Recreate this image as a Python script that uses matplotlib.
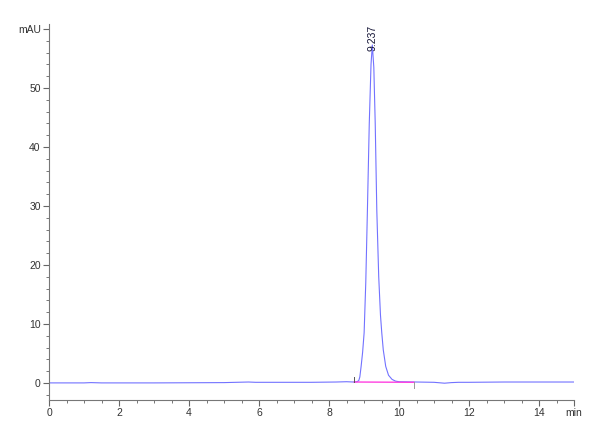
import matplotlib
matplotlib.use("Agg")
import matplotlib.pyplot as plt
from matplotlib.ticker import MultipleLocator

# Chromatogram trace (time in min, signal in mAU)
time_min = [0.0, 1.0, 1.2, 1.5, 3.0, 5.0, 5.7, 5.9, 6.5, 7.5, 8.2, 8.5, 8.7,
            8.8, 8.85, 8.88, 8.917, 8.96, 9.003, 9.05, 9.097, 9.15, 9.2, 9.237,
            9.28, 9.32, 9.365, 9.42, 9.47, 9.507, 9.55, 9.62, 9.7, 9.8, 9.9,
            10.0, 10.5, 11.0, 11.3, 11.5, 11.7, 12.0, 13.0, 14.0, 15.0]
signal_mau = [0.0, 0.0, 0.05, 0.0, 0.0, 0.05, 0.15, 0.1, 0.1, 0.1, 0.15, 0.2, 0.15,
              0.2, 0.4, 1.0, 2.8, 5.2, 8.5, 17.0, 29.3, 44.0, 54.0, 57.3,
              53.5, 44.0, 29.3, 18.0, 11.5, 8.5, 5.6, 2.8, 1.3, 0.6, 0.3,
              0.2, 0.15, 0.1, -0.05, 0.05, 0.1, 0.1, 0.15, 0.15, 0.15]

peak_rt = 9.237
peak_height = 57.3
baseline_t = [8.72, 10.43]
baseline_v = [0.15, 0.1]

xticks = [0, 2, 4, 6, 8, 10, 12, 14]
xlabels = ["0", "2", "4", "6", "8", "10", "12", "14"]
yticks = [0, 10, 20, 30, 40, 50]
ylabels = ["0", "10", "20", "30", "40", "50"]

plt.rcParams['font.family'] = ['Liberation Sans', 'DejaVu Sans']

fig = plt.figure(figsize=(6, 4.4), dpi=100)
ax = fig.add_axes([0.0817, 0.0909, 0.875, 0.8545])

ax.plot(time_min, signal_mau, color='#7272ff', lw=0.8)
ax.plot(baseline_t, baseline_v, color='#ff40e0', lw=1.0)
# integration markers
ax.plot([baseline_t[0], baseline_t[0]], [baseline_v[0], baseline_v[0] + 0.9], color='#555555', lw=0.7)
ax.plot([baseline_t[1], baseline_t[1]], [baseline_v[1], baseline_v[1] - 0.9], color='#999999', lw=0.7)

ax.text(peak_rt, peak_height - 1.0, f"{peak_rt:.3f}", rotation=90, ha='center', va='bottom',
        fontsize=7.5, color='#111133')

ax.set_xlim(0, 15)
ax.set_ylim(-2.9, 60.85)

ax.set_xticks(xticks + [15])
ax.set_xticklabels(xlabels + ["min"])
ax.set_yticks(yticks + [60])
ax.set_yticklabels(ylabels + ["mAU"])
ax.xaxis.set_minor_locator(MultipleLocator(0.5))
ax.yaxis.set_minor_locator(MultipleLocator(2))

for s in ['top', 'right']:
    ax.spines[s].set_visible(False)
for s in ['left', 'bottom']:
    ax.spines[s].set_color('#777777')
    ax.spines[s].set_linewidth(0.8)

ax.tick_params(axis='both', which='major', length=4, width=0.8, color='#666666',
               labelsize=7.5, labelcolor='#333333', pad=2)
ax.tick_params(axis='both', which='minor', length=2.5, width=0.7, color='#777777')

fig.savefig("out.png", dpi=100)
